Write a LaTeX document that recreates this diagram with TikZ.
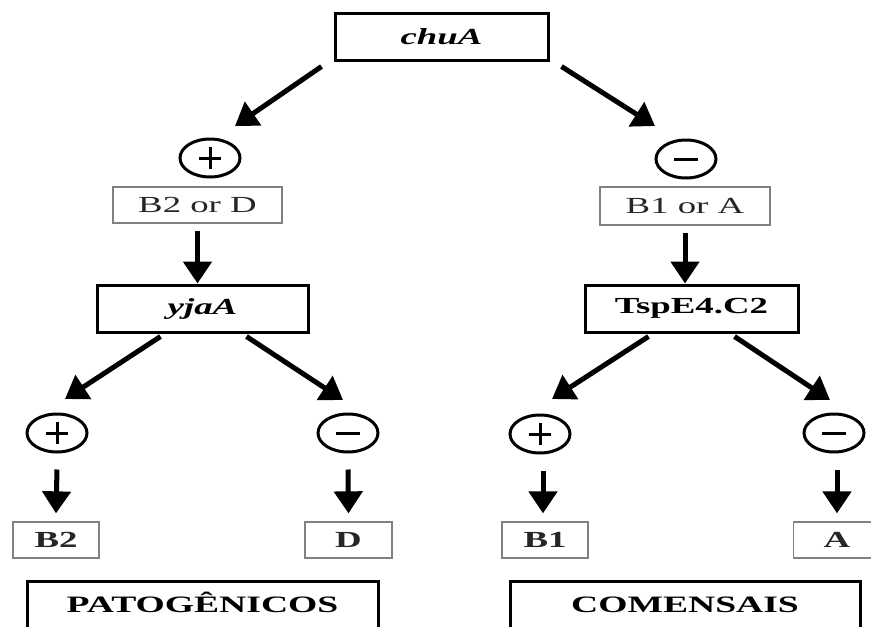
\documentclass[tikz,border=0pt]{standalone}
\usepackage{fontspec}
\setmainfont{Liberation Serif}[FakeStretch=1.6]
\usetikzlibrary{arrows.meta,shapes.geometric}
\begin{document}
\begin{tikzpicture}[x=1pt,y=-1pt,
  thickbox/.style={draw=black,line width=3pt,inner sep=0pt,text=black,font=\fontsize{23}{27}\selectfont\bfseries},
  thinbox/.style={draw=black!50,line width=1.3pt,inner sep=0pt,text=black!85,font=\fontsize{23}{27}\selectfont},
  signnode/.style={ellipse,draw=black,line width=3pt,minimum width=60pt,minimum height=38pt,inner sep=0pt},
  signbar/.style={line width=3pt},
  arr/.style={line width=5pt,-{Triangle[width=28pt,length=22pt]}},
  labeltext/.style={font=\fontsize{23.5}{27}\selectfont\bfseries,text=black,inner sep=0pt}]
\useasboundingbox (0,0) rectangle (871,627);
\fill[white] (0,0) rectangle (871,627);
\clip (0,0) rectangle (871,627);

% boxes
\node[thickbox,minimum width=213pt,minimum height=47pt] (chuA) at (441.5,36.5) {\itshape chuA};
\node[thinbox,minimum width=169pt,minimum height=36pt] (b2d) at (197.5,205) {B2 or D};
\node[thinbox,minimum width=170pt,minimum height=38pt] (b1a) at (685,206) {B1 or A};
\node[thickbox,minimum width=211pt,minimum height=47pt] (yja) at (202.5,308.5) {\itshape yjaA};
\node[thickbox,minimum width=213pt,minimum height=47pt] (tsp) at (691.5,308.5) {TspE4.C2};
\node[thinbox,font=\fontsize{23}{27}\selectfont\bfseries,minimum width=86pt,minimum height=36pt] (B2) at (56,540) {B2};
\node[thinbox,font=\fontsize{23}{27}\selectfont\bfseries,minimum width=87pt,minimum height=36pt] (D) at (348.5,540) {D};
\node[thinbox,font=\fontsize{23}{27}\selectfont\bfseries,minimum width=86pt,minimum height=36pt] (B1) at (545,540) {B1};
\node[thinbox,font=\fontsize{23}{27}\selectfont\bfseries,minimum width=87pt,minimum height=36pt] (A) at (837,540) {A};

\node[thickbox,minimum width=351pt,minimum height=80pt,anchor=north] (pat) at (202.5,580) {};
\node[labeltext,anchor=base] (patt) at (202.5,612) {PATOGÊNICOS};
\node[thickbox,minimum width=350pt,minimum height=80pt,anchor=north] (com) at (685,580) {};
\node[labeltext,anchor=base] (comt) at (685,612) {COMENSAIS};

% signs
\node[signnode] (p1) at (210,158) {};
\node[signnode] (m1) at (686,159) {};
\node[signnode] (p2) at (57,433) {};
\node[signnode] (m2) at (348,433) {};
\node[signnode] (p3) at (540,434) {};
\node[signnode] (m3) at (834,433) {};
\foreach \n in {p1,p2,p3}{
  \draw[signbar] ([xshift=-11pt]\n.center) -- ([xshift=11pt]\n.center)
                 ([yshift=-11pt]\n.center) -- ([yshift=11pt]\n.center);
}
\foreach \n in {m1,m2,m3}{
  \draw[signbar] ([xshift=-12pt]\n.center) -- ([xshift=12pt]\n.center);
}

% arrows
\draw[arr] ([shift={(-12,5)}]chuA.south west) -- ([shift={(25,-32)}]p1.center);
\draw[arr] ([shift={(12,5)}]chuA.south east) -- ([shift={(-31,-33)}]m1.center);
\coordinate (t1) at ([yshift=-7pt]b2d.south);
\draw[arr] (t1) -- (t1 |- yja.north);
\coordinate (t2) at ([yshift=-7pt]b1a.south);
\draw[arr] (t2) -- (t2 |- tsp.north);
\draw[arr] ([shift={(65,3)}]yja.south west) -- ([shift={(8,-34)}]p2.center);
\draw[arr] ([shift={(-63,3)}]yja.south east) -- ([shift={(-5,-33)}]m2.center);
\draw[arr] ([shift={(65,3)}]tsp.south west) -- ([shift={(12,-35)}]p3.center);
\draw[arr] ([shift={(-65,3)}]tsp.south east) -- ([shift={(-4,-33)}]m3.center);
\draw[arr] ([yshift=-16pt]p2.south) -- ([yshift=8pt]B2.north);
\draw[arr] ([yshift=-16pt]m2.south) -- ([yshift=8pt]D.north);
\coordinate (t3) at ([shift={(3,16)}]p3.south);
\coordinate (e3) at ([yshift=8pt]B1.north);
\draw[arr] (t3) -- (t3 |- e3);
\coordinate (t4) at ([shift={(3,16)}]m3.south);
\coordinate (e4) at ([yshift=8pt]A.north);
\draw[arr] (t4) -- (t4 |- e4);
\end{tikzpicture}
\end{document}
